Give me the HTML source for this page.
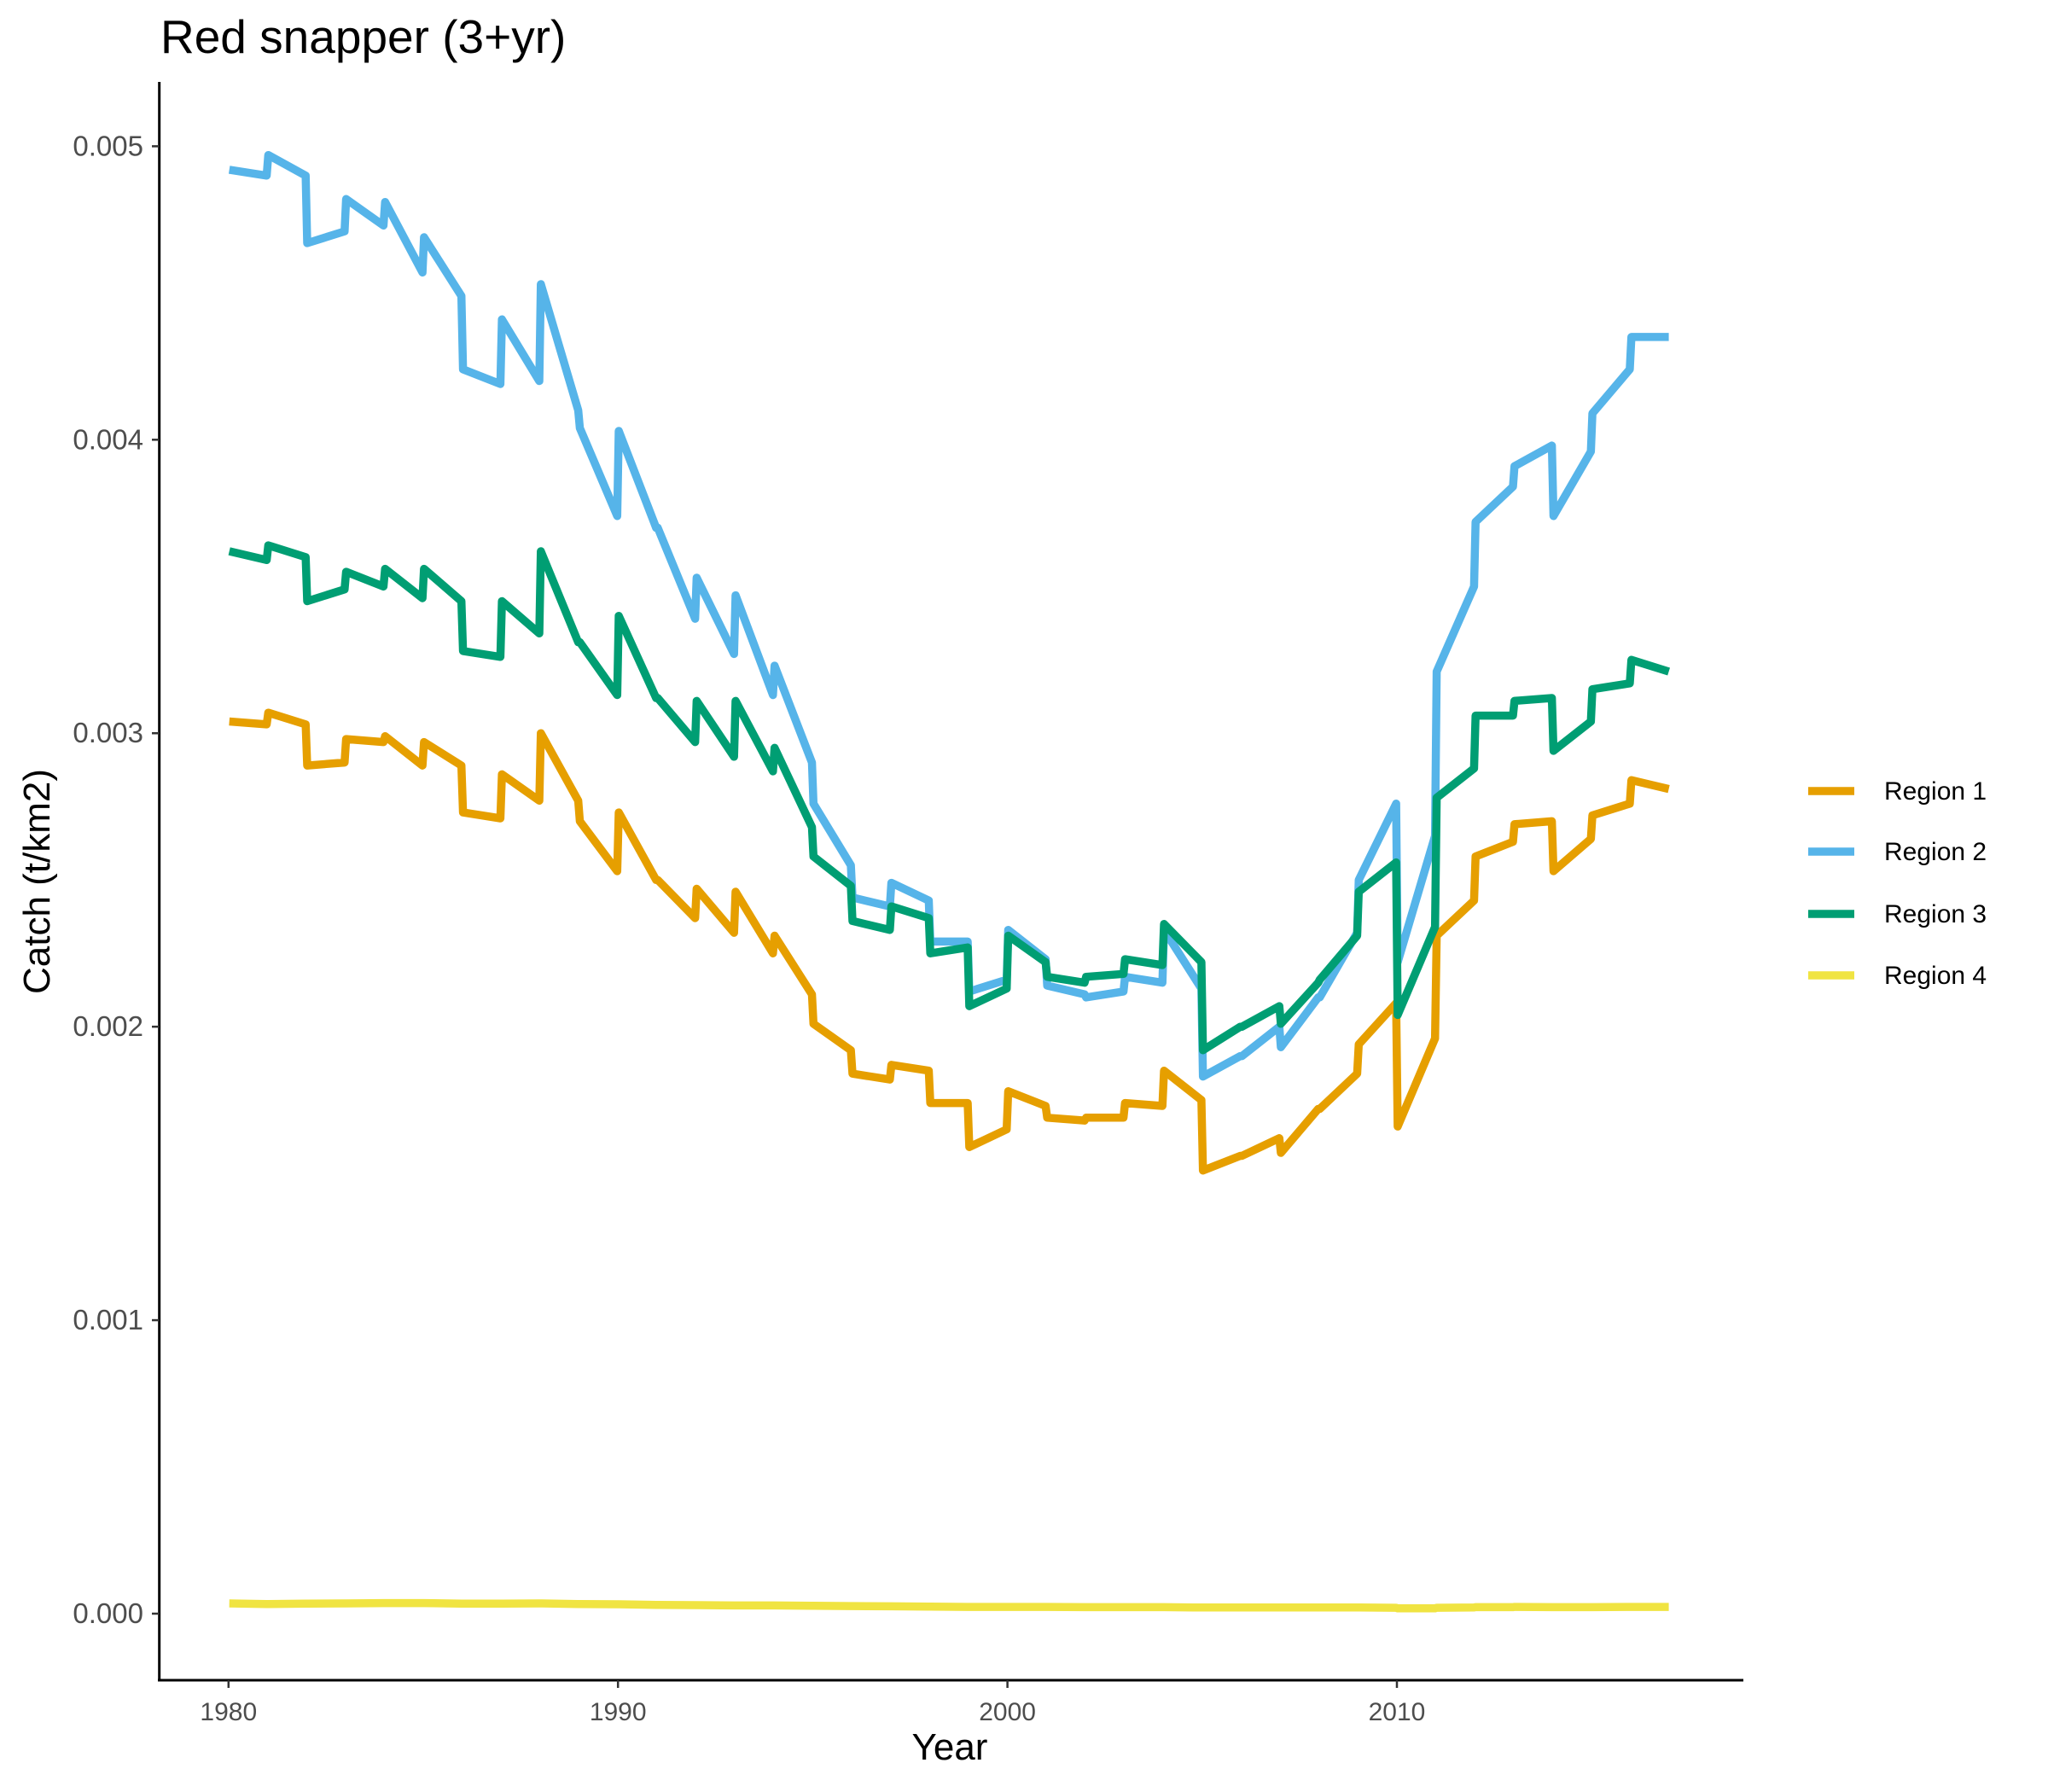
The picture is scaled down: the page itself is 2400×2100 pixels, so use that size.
<!DOCTYPE html>
<html><head><meta charset="utf-8"><style>
html,body{margin:0;padding:0;background:#fff;}
svg{display:block;font-family:"Liberation Sans",Arial,sans-serif;}
</style></head><body>
<svg id="chart" width="2400" height="2100" viewBox="0 0 2400 2100">
<g id="plot"></g>
</svg>
<script>
const years = [1980,1981,1982,1983,1984,1985,1986,1987,1988,1989,1990,1991,1992,1993,1994,1995,1996,1997,1998,1999,2000,2001,2002,2003,2004,2005,2006,2007,2008,2009,2010,2011,2012,2013,2014,2015,2016];
const r1Start = [0.00304,0.00307,0.00289,0.00298,0.00299,0.00297,0.00273,0.00286,0.00300,0.00270,0.00273,0.00250,0.00247,0.00246,0.00231,0.00201,0.00184,0.00187,0.00174,0.00159,0.00178,0.00169,0.00169,0.00174,0.00185,0.00151,0.00156,0.00157,0.00172,0.00194,0.00166,0.00231,0.00258,0.00269,0.00253,0.00272,0.00284];
const r1End   = [0.00303,0.00303,0.00290,0.00297,0.00289,0.00289,0.00271,0.00277,0.00277,0.00253,0.00250,0.00237,0.00232,0.00225,0.00211,0.00192,0.00182,0.00185,0.00174,0.00165,0.00173,0.00168,0.00169,0.00173,0.00175,0.00156,0.00162,0.00172,0.00184,0.00208,0.00196,0.00243,0.00263,0.00270,0.00264,0.00276,0.00281];
const r2Start = [0.00492,0.00497,0.00467,0.00482,0.00481,0.00469,0.00424,0.00441,0.00453,0.00404,0.00403,0.00370,0.00353,0.00347,0.00323,0.00276,0.00244,0.00249,0.00229,0.00212,0.00233,0.00214,0.00210,0.00217,0.00233,0.00183,0.00190,0.00193,0.00210,0.00250,0.00222,0.00321,0.00372,0.00391,0.00374,0.00409,0.00435];
const r2End   = [0.00490,0.00490,0.00471,0.00473,0.00457,0.00449,0.00419,0.00420,0.00410,0.00374,0.00370,0.00339,0.00327,0.00313,0.00290,0.00255,0.00241,0.00243,0.00229,0.00216,0.00223,0.00211,0.00212,0.00215,0.00213,0.00190,0.00200,0.00210,0.00232,0.00276,0.00265,0.00350,0.00384,0.00398,0.00396,0.00424,0.00435];
const r3Start = [0.00362,0.00364,0.00345,0.00355,0.00356,0.00356,0.00328,0.00345,0.00362,0.00331,0.00340,0.00312,0.00311,0.00311,0.00295,0.00258,0.00236,0.00241,0.00225,0.00207,0.00231,0.00217,0.00217,0.00223,0.00235,0.00192,0.00200,0.00201,0.00216,0.00246,0.00204,0.00278,0.00306,0.00311,0.00294,0.00315,0.00325];
const r3End   = [0.00359,0.00360,0.00349,0.00350,0.00346,0.00345,0.00326,0.00334,0.00331,0.00313,0.00312,0.00297,0.00292,0.00287,0.00268,0.00248,0.00233,0.00237,0.00227,0.00213,0.00222,0.00215,0.00218,0.00221,0.00222,0.00200,0.00207,0.00215,0.00231,0.00256,0.00234,0.00288,0.00306,0.00312,0.00304,0.00317,0.00321];
const r4Start = [0.000035,0.000033,0.000034,0.000035,0.000036,0.000036,0.000034,0.000034,0.000035,0.000033,0.000032,0.000030,0.000029,0.000028,0.000028,0.000027,0.000026,0.000025,0.000024,0.000023,0.000023,0.000023,0.000022,0.000022,0.000022,0.000021,0.000021,0.000021,0.000021,0.000021,0.000018,0.000020,0.000022,0.000023,0.000022,0.000022,0.000023];
const r4End   = [0.000033,0.000034,0.000035,0.000036,0.000036,0.000034,0.000034,0.000035,0.000033,0.000032,0.000030,0.000029,0.000028,0.000028,0.000027,0.000026,0.000025,0.000024,0.000023,0.000023,0.000023,0.000022,0.000022,0.000022,0.000021,0.000021,0.000021,0.000021,0.000021,0.000020,0.000018,0.000021,0.000022,0.000022,0.000022,0.000023,0.000023];
const xTicks = [1980,1990,2000,2010];
const yTicks = [0,0.001,0.002,0.003,0.004,0.005];
const yTickLabels = ["0.000","0.001","0.002","0.003","0.004","0.005"];
const seriesNames = ["Region 1","Region 2","Region 3","Region 4"];
const seriesColors = ["#E69F00","#56B4E9","#009E73","#F0E442"];

const NS="http://www.w3.org/2000/svg";
const svg=document.getElementById('chart');
const plot=document.getElementById('plot');
function xs(v){return 267.8+(v-1980)*(1637-267.8)/30;}
function ys(v){return 1891-v*(1891-171.4)/0.005;}
function mk(tag,attrs,parent){const e=document.createElementNS(NS,tag);for(const k in attrs)e.setAttribute(k,attrs[k]);(parent||svg).appendChild(e);return e;}

let ax=mk('line',{x1:186.7,y1:96,x2:186.7,y2:1969,stroke:'#000','stroke-width':3});


ax=mk('line',{x1:185,y1:1969,x2:2043,y2:1969,stroke:'#000','stroke-width':3});



yTicks.forEach((t,i)=>{
  const y=ys(t);
  const tk=mk('line',{x1:178,y1:y,x2:186.7,y2:y,stroke:'#333','stroke-width':2.5});
  
  
  const tx=mk('text',{x:168,y:y+11,'text-anchor':'end','font-size':33,fill:'#4d4d4d'});
  tx.textContent=yTickLabels[i];
  
  
});
xTicks.forEach(t=>{
  const x=xs(t);
  const tk=mk('line',{x1:x,y1:1969,x2:x,y2:1978,stroke:'#333','stroke-width':2.5});
  
  
  const tx=mk('text',{x:x,y:2016,'text-anchor':'middle','font-size':30,fill:'#4d4d4d'});
  tx.textContent=String(t);
  
  
});

const starts=[r1Start,r2Start,r3Start,r4Start], ends=[r1End,r2End,r3End,r4End];
const order=[3,0,1,2];
order.forEach(s=>{
  let pts=[];
  years.forEach((yr,i)=>{
    pts.push(xs(yr+0.02).toFixed(1)+','+ys(starts[s][i]).toFixed(1));
    pts.push(xs(yr+0.98).toFixed(1)+','+ys(ends[s][i]).toFixed(1));
  });
  const p=mk('polyline',{points:pts.join(' '),fill:'none',stroke:seriesColors[s],'stroke-width':9.5,'stroke-linejoin':'round'},plot);
  
  
});

const legendY=[927,998,1071,1143];
seriesNames.forEach((n,i)=>{
  const l=mk('line',{x1:2119,y1:legendY[i],x2:2173,y2:legendY[i],stroke:seriesColors[i],'stroke-width':9.5});
  
  
  const t=mk('text',{x:2208,y:legendY[i]+10,'font-size':30,fill:'#000'});
  t.textContent=n;
  
  
});

let t=mk('text',{x:188,y:62,'font-size':55,fill:'#000'});
t.textContent='Red snapper (3+yr)';


t=mk('text',{x:1113,y:2062,'text-anchor':'middle','font-size':44,fill:'#000'});
t.textContent='Year';


t=mk('text',{x:0,y:0,'text-anchor':'middle','font-size':44,fill:'#000',transform:'translate(58,1033) rotate(-90)'});
t.textContent='Catch (t/km2)';


</script>
</body></html>
